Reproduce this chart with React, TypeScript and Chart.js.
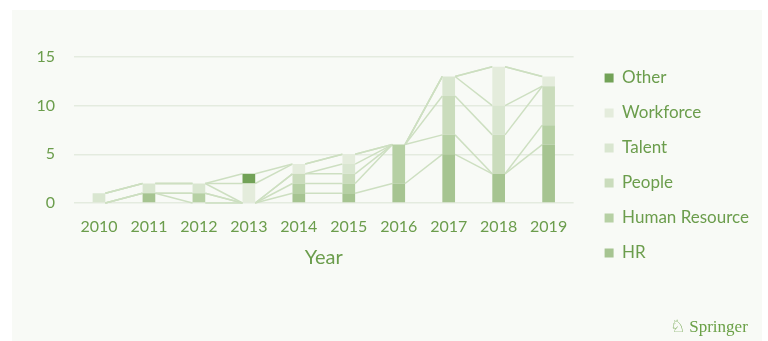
import React, { useEffect, useRef } from 'react';
import { Chart, registerables } from 'chart.js';

Chart.register(...registerables);

const years = ['2010', '2011', '2012', '2013', '2014', '2015', '2016', '2017', '2018', '2019'];
const seriesNames = ['HR', 'Human Resource', 'People', 'Talent', 'Workforce', 'Other'];
const hr = [0, 1, 0, 0, 1, 1, 2, 5, 3, 6];
const humanResource = [0, 0, 1, 0, 1, 1, 4, 2, 0, 2];
const people = [0, 0, 0, 0, 1, 1, 0, 4, 4, 4];
const talent = [1, 1, 1, 0, 0, 1, 0, 2, 3, 0];
const workforce = [0, 0, 0, 2, 1, 1, 0, 0, 4, 1];
const other = [0, 0, 0, 1, 0, 0, 0, 0, 0, 0];
const yTicks = [0, 5, 10, 15];

const seriesValues = [hr, humanResource, people, talent, workforce, other];
const seriesColors = ['#a6c491', '#b6d0a4', '#cadcbc', '#d9e6d0', '#e4ecdc', '#72a257'];

const TEXT = '#6b9d4c';
const FONT = 'Lato, "Open Sans", sans-serif';
const LINE = '#cddfc1';

const seriesLines = {
  id: 'seriesLines',
  beforeDatasetsDraw(chart: any) {
    const ctx = chart.ctx;
    ctx.save();
    ctx.strokeStyle = LINE;
    ctx.lineWidth = 1.5;
    chart.data.datasets.forEach((_ds: any, i: number) => {
      const meta = chart.getDatasetMeta(i);
      for (let j = 0; j < meta.data.length - 1; j++) {
        const a: any = meta.data[j];
        const b: any = meta.data[j + 1];
        ctx.beginPath();
        ctx.moveTo(a.x + a.width / 2, a.y);
        ctx.lineTo(b.x - b.width / 2, b.y);
        ctx.stroke();
      }
    });
    ctx.restore();
  },
};

export default function App() {
  const ref = useRef<HTMLCanvasElement | null>(null);

  useEffect(() => {
    if (!ref.current) return;
    const chart = new Chart(ref.current, {
      type: 'bar',
      data: {
        labels: years,
        datasets: seriesNames.map((name, i) => ({
          label: name,
          data: seriesValues[i],
          backgroundColor: seriesColors[i],
          borderWidth: 0,
          barPercentage: 0.254,
          categoryPercentage: 1,
        })),
      },
      options: {
        animation: false,
        responsive: false,
        maintainAspectRatio: false,
        layout: { padding: { left: 0, right: 9, top: 0, bottom: 10 } },
        plugins: {
          legend: {
            position: 'right',
            align: 'center',
            reverse: true,
            labels: {
              boxWidth: 9,
              boxHeight: 9,
              padding: 18,
              color: TEXT,
              font: { family: FONT, size: 17 },
            },
          },
          tooltip: { enabled: false },
        },
        scales: {
          x: {
            stacked: true,
            grid: { display: false },
            border: { display: false },
            ticks: { color: TEXT, font: { family: FONT, size: 16 }, padding: 6 },
            title: {
              display: true,
              text: 'Year',
              color: TEXT,
              font: { family: FONT, size: 20 },
              padding: { top: 0, bottom: 61 },
            },
            afterFit: (s: any) => {
              s.height = 128;
            },
          },
          y: {
            stacked: true,
            min: 0,
            max: 15,
            afterBuildTicks: (s: any) => {
              s.ticks = yTicks.map((v) => ({ value: v }));
            },
            ticks: { color: TEXT, font: { family: FONT, size: 16 }, padding: 19 },
            grid: { color: '#e4ebdf', lineWidth: 1.4, drawTicks: false },
            border: { display: false },
            afterFit: (s: any) => {
              s.width = 74;
            },
          },
          xTop: {
            type: 'linear',
            axis: 'x',
            position: 'top',
            display: false,
            afterFit: (s: any) => {
              s.height = 57;
            },
          },
          yRight: {
            type: 'linear',
            axis: 'y',
            position: 'right',
            display: false,
            afterFit: (s: any) => {
              s.width = 13;
            },
          },
        },
      } as any,
      plugins: [seriesLines],
    });
    return () => chart.destroy();
  }, []);

  return (
    <div style={{ position: 'fixed', left: 0, top: 0, width: 768, height: 341, background: '#ffffff', overflow: 'hidden' }}>
      <div style={{ position: 'absolute', left: 12, top: 10, width: 750, height: 331, background: '#f8faf6' }} />
      <canvas ref={ref} width={768} height={341} style={{ position: 'absolute', left: 0, top: 0, width: 768, height: 341 }} />
      <div
        style={{
          position: 'absolute',
          left: 670,
          top: 316,
          color: '#6aa046',
          whiteSpace: 'nowrap',
          lineHeight: '20px',
        }}
      >
        <span style={{ fontFamily: '"DejaVu Sans", sans-serif', fontSize: 17 }}>♘</span>
        <span style={{ fontFamily: '"Liberation Serif", serif', fontSize: 17, marginLeft: 4 }}>Springer</span>
      </div>
    </div>
  );
}
